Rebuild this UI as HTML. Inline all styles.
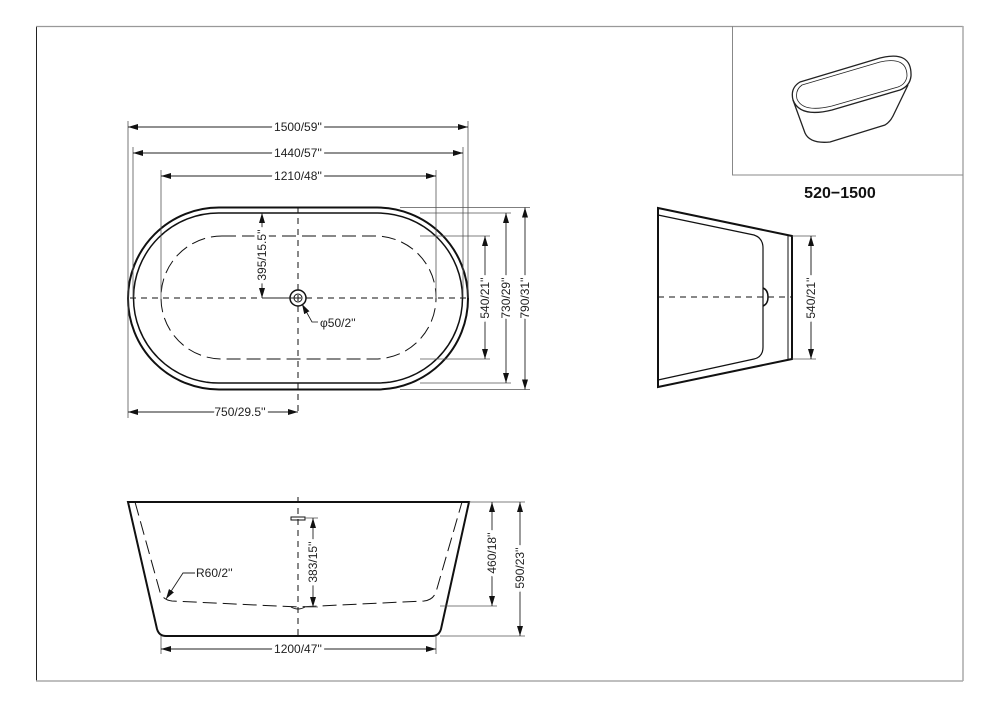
<!DOCTYPE html>
<html><head><meta charset="utf-8"><style>
html,body{margin:0;padding:0;background:#fff}
svg{display:block}
text{font-family:"Liberation Sans",sans-serif;font-size:12px;fill:#222}
</style></head><body>
<svg width="1000" height="707" viewBox="0 0 1000 707" xmlns="http://www.w3.org/2000/svg">
<defs>
<marker id="a" viewBox="0 0 10 6" refX="10" refY="3" markerWidth="10" markerHeight="6" orient="auto-start-reverse" markerUnits="userSpaceOnUse"><path d="M0,0L10,3L0,6z" fill="#111"/></marker>
</defs>
<line x1="36.5" y1="26" x2="36.5" y2="681" stroke="#222" stroke-width="1"/>
<line x1="36" y1="26.5" x2="963" y2="26.5" stroke="#999" stroke-width="1.2"/>
<line x1="963" y1="26" x2="963" y2="681" stroke="#aaa" stroke-width="1.5"/>
<line x1="36" y1="681" x2="963" y2="681" stroke="#aaa" stroke-width="1.5"/>
<line x1="732.5" y1="26" x2="732.5" y2="175" stroke="#888" stroke-width="1"/>
<line x1="732" y1="175" x2="963" y2="175" stroke="#888" stroke-width="1"/>
<text x="840" y="198" text-anchor="middle" style="font-size:16px;font-weight:bold;fill:#111">520−1500</text>
<g fill="none" stroke="#222" stroke-width="1.3">
<path d="M800,82 L880,58 Q912,50 911,76 Q910,86 900,90 L832,110 Q800,118 793,100 Q790,88 800,82 Z"/>
<path d="M802,85 L880,62 Q907,56 907,76 Q906,84 898,87 L832,106 Q803,113 797,99 Q795,90 802,85 Z" stroke-width="0.8"/>
<path d="M793,100 L805,133 Q810,144 830,142 L885,125 Q890,122 893,116 L908,85"/>
</g>

<g fill="none" stroke="#111">
<rect x="128" y="207.5" width="340" height="182" rx="91" stroke-width="2"/>
<rect x="133.5" y="213" width="329" height="170" rx="85" stroke-width="1.5"/>
<rect x="161" y="236" width="275" height="123" rx="61" stroke-width="1" stroke-dasharray="14 6"/>
<line x1="130" y1="298" x2="466" y2="298" stroke-width="1" stroke-dasharray="6 5"/>
<line x1="298" y1="207" x2="298" y2="412" stroke-width="1" stroke-dasharray="6 5"/>
<circle cx="298" cy="298" r="8" stroke-width="1.5"/>
<circle cx="298" cy="298" r="4" stroke-width="1"/>
<path d="M318,322 L312,322 L302,304" stroke-width="0.8" marker-end="url(#a)"/>
</g>
<g fill="none" stroke="#555" stroke-width="0.8">
<line x1="128" y1="121" x2="128" y2="418"/>
<line x1="468" y1="121" x2="468" y2="298"/>
<line x1="133" y1="147" x2="133" y2="298"/>
<line x1="463" y1="147" x2="463" y2="298"/>
<line x1="161" y1="170" x2="161" y2="298"/>
<line x1="436" y1="170" x2="436" y2="298"/>
<line x1="400" y1="207.5" x2="530" y2="207.5"/>
<line x1="420" y1="213" x2="511" y2="213"/>
<line x1="420" y1="236" x2="490" y2="236"/>
<line x1="420" y1="359" x2="490" y2="359"/>
<line x1="420" y1="383" x2="511" y2="383"/>
<line x1="400" y1="389.5" x2="530" y2="389.5"/>
</g>
<g stroke="#222" stroke-width="0.9" fill="none">
<line x1="128" y1="127" x2="468" y2="127" marker-start="url(#a)" marker-end="url(#a)"/>
<line x1="133" y1="153" x2="463" y2="153" marker-start="url(#a)" marker-end="url(#a)"/>
<line x1="161" y1="176" x2="436" y2="176" marker-start="url(#a)" marker-end="url(#a)"/>
<line x1="485" y1="236" x2="485" y2="359" marker-start="url(#a)" marker-end="url(#a)"/>
<line x1="506" y1="213" x2="506" y2="383" marker-start="url(#a)" marker-end="url(#a)"/>
<line x1="525" y1="207.5" x2="525" y2="389.5" marker-start="url(#a)" marker-end="url(#a)"/>
<line x1="262" y1="213" x2="262" y2="298" marker-start="url(#a)" marker-end="url(#a)"/>
<line x1="262" y1="298" x2="298" y2="298"/>
<line x1="128" y1="412" x2="298" y2="412" marker-start="url(#a)" marker-end="url(#a)"/>
</g>
<g style="font-size:12px">
<text x="298" y="131" text-anchor="middle" stroke="#fff" stroke-width="6" paint-order="stroke">1500/59''</text>
<text x="298" y="157" text-anchor="middle" stroke="#fff" stroke-width="6" paint-order="stroke">1440/57''</text>
<text x="298" y="180" text-anchor="middle" stroke="#fff" stroke-width="6" paint-order="stroke">1210/48''</text>
<text x="240" y="416" text-anchor="middle" stroke="#fff" stroke-width="6" paint-order="stroke">750/29.5''</text>
<text x="320" y="327">φ50/2''</text>
<text transform="translate(489 298) rotate(-90)" text-anchor="middle" stroke="#fff" stroke-width="6" paint-order="stroke">540/21''</text>
<text transform="translate(510 298) rotate(-90)" text-anchor="middle" stroke="#fff" stroke-width="6" paint-order="stroke">730/29''</text>
<text transform="translate(529 298) rotate(-90)" text-anchor="middle" stroke="#fff" stroke-width="6" paint-order="stroke">790/31''</text>
<text transform="translate(266 255) rotate(-90)" text-anchor="middle" stroke="#fff" stroke-width="6" paint-order="stroke">395/15.5''</text>
</g>

<g fill="none" stroke="#111">
<path d="M658,208 L792,236 L792,359 L658,387 Z" stroke-width="2"/>
<line x1="788" y1="236" x2="788" y2="359" stroke-width="1"/>
<path d="M658,215 L754,235 Q763,238 763,248 L763,347 Q763,357 754,359 L658,380" stroke-width="1.2"/>
<line x1="658" y1="297" x2="792" y2="297" stroke-width="1" stroke-dasharray="6 5"/>
<path d="M763,288 Q768,290 768,297 Q768,304 763,306" stroke-width="1.5"/>
<line x1="792" y1="236" x2="816" y2="236" stroke="#555" stroke-width="0.8"/>
<line x1="792" y1="359" x2="816" y2="359" stroke="#555" stroke-width="0.8"/>
<line x1="811" y1="236" x2="811" y2="359" stroke-width="0.9" marker-start="url(#a)" marker-end="url(#a)"/>
</g>
<text transform="translate(815 298) rotate(-90)" text-anchor="middle" stroke="#fff" stroke-width="6" paint-order="stroke">540/21''</text>

<g fill="none" stroke="#111">
<path d="M128,502 L469,502 L441,629 Q439,636 432,636 L166,636 Q159,636 157,629 Z" stroke-width="2"/>
<path d="M135,502 L160,592 Q163,600 172,601 L298,607 L424,601 Q433,600 436,592 L462,502" stroke-width="1" stroke-dasharray="14 6"/>
<line x1="298" y1="497" x2="298" y2="636" stroke-width="1" stroke-dasharray="6 5"/>
<rect x="291" y="517" width="14" height="3" stroke-width="1"/>
<path d="M291,607 Q298,611 305,607" stroke-width="1"/>
</g>
<g fill="none" stroke="#555" stroke-width="0.8">
<line x1="305" y1="518" x2="318" y2="518"/>
<line x1="305" y1="607" x2="318" y2="607"/>
<line x1="440" y1="606" x2="497" y2="606"/>
<line x1="469" y1="502" x2="525" y2="502"/>
<line x1="440" y1="636" x2="525" y2="636"/>
<line x1="161" y1="636" x2="161" y2="654"/>
<line x1="436" y1="636" x2="436" y2="654"/>
</g>
<g stroke="#222" stroke-width="0.9" fill="none">
<line x1="313" y1="518" x2="313" y2="607" marker-start="url(#a)" marker-end="url(#a)"/>
<line x1="492" y1="502" x2="492" y2="606" marker-start="url(#a)" marker-end="url(#a)"/>
<line x1="520" y1="502" x2="520" y2="636" marker-start="url(#a)" marker-end="url(#a)"/>
<line x1="161" y1="649" x2="436" y2="649" marker-start="url(#a)" marker-end="url(#a)"/>
<path d="M195,573 L183,573 L166,599" marker-end="url(#a)"/>
</g>
<text transform="translate(317 562) rotate(-90)" text-anchor="middle" stroke="#fff" stroke-width="6" paint-order="stroke">383/15''</text>
<text transform="translate(496 553) rotate(-90)" text-anchor="middle" stroke="#fff" stroke-width="6" paint-order="stroke">460/18''</text>
<text transform="translate(524 568) rotate(-90)" text-anchor="middle" stroke="#fff" stroke-width="6" paint-order="stroke">590/23''</text>
<text x="298" y="653" text-anchor="middle" stroke="#fff" stroke-width="6" paint-order="stroke">1200/47''</text>
<text x="196" y="577">R60/2''</text>
</svg>
</body></html>
